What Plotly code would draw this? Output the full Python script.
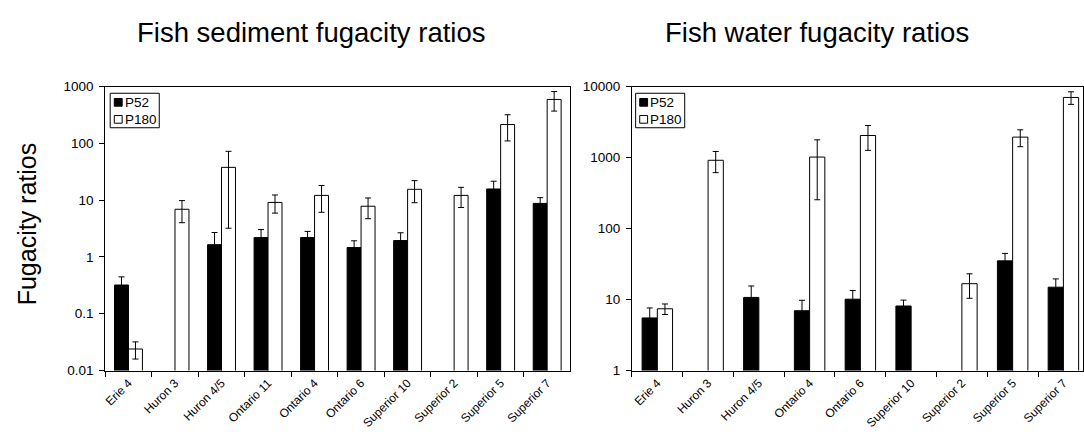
import plotly.graph_objects as go

# ---------------- data ----------------
cats_sed = ["Erie 4", "Huron 3", "Huron 4/5", "Ontario 11", "Ontario 4",
            "Ontario 6", "Superior 10", "Superior 2", "Superior 5", "Superior 7"]
sed_p52 = [0.32, None, 1.64, 2.19, 2.19, 1.46, 1.94, None, 15.7, 8.75]
sed_p52_err = [0.125, None, 1.05, 0.84, 0.62, 0.46, 0.72, None, 5.8, 2.3]
sed_p180 = [0.0239, 6.9, 37.7, 9.1, 12.1, 7.8, 15.5, 12.1, 214, 592]
sed_p180_err = [0.008, 2.9, 34.5, 3.2, 6.0, 3.1, 6.5, 4.7, 104, 223]

cats_wat = ["Erie 4", "Huron 3", "Huron 4/5", "Ontario 4", "Ontario 6",
            "Superior 10", "Superior 2", "Superior 5", "Superior 7"]
wat_p52 = [5.5, None, 10.7, 6.95, 10.1, 8.1, None, 35, 14.9]
wat_p52_err = [2.1, None, 4.8, 2.8, 3.3, 1.7, None, 9.6, 4.6]
wat_p180 = [7.4, 914, None, 1014, 2042, None, 16.7, 1937, 7010]
wat_p180_err = [1.25, 302, None, 760, 780, None, 6.3, 517, 1410]

sed_ticks = [0.01, 0.1, 1, 10, 100, 1000]
sed_ticktext = ["0.01", "0.1", "1", "10", "100", "1000"]
wat_ticks = [1, 10, 100, 1000, 10000]
wat_ticktext = ["1", "10", "100", "1000", "10000"]

series_names = ["P52", "P180"]
titles = ["Fish sediment fugacity ratios", "Fish water fugacity ratios"]
ytitle = "Fugacity ratios"

# ---------------- layout helpers ----------------
W, H = 1084, 441
FONT = "Liberation Sans, Arial, sans-serif"


def px(x):
    return x / W


def py(y):
    return 1 - y / H


def err(arr):
    return dict(type="data", array=arr, visible=True, color="black",
                thickness=1, width=3)


fig = go.Figure()
fig.add_trace(go.Bar(x=cats_sed, y=sed_p52, error_y=err(sed_p52_err),
                     marker=dict(color="black", line=dict(color="black", width=1)),
                     name=series_names[0], xaxis="x", yaxis="y", showlegend=False))
fig.add_trace(go.Bar(x=cats_sed, y=sed_p180, error_y=err(sed_p180_err),
                     marker=dict(color="white", line=dict(color="black", width=1)),
                     name=series_names[1], xaxis="x", yaxis="y", showlegend=False))
fig.add_trace(go.Bar(x=cats_wat, y=wat_p52, error_y=err(wat_p52_err),
                     marker=dict(color="black", line=dict(color="black", width=1)),
                     name=series_names[0], xaxis="x2", yaxis="y2", showlegend=False))
fig.add_trace(go.Bar(x=cats_wat, y=wat_p180, error_y=err(wat_p180_err),
                     marker=dict(color="white", line=dict(color="black", width=1)),
                     name=series_names[1], xaxis="x2", yaxis="y2", showlegend=False))

left_x0, left_x1 = 103.5, 570
right_x0 = 631.7
right_cat_w = 50.9
plot_top, plot_bot = 82.3, 376.3

xcommon = dict(type="category", tickson="boundaries", ticks="outside", ticklen=5,
               tickcolor="black", tickangle=-45, showline=True, linecolor="black",
               linewidth=1, mirror=True, showgrid=False, zeroline=False,
               tickfont=dict(family=FONT, size=12, color="black"))
ycommon = dict(type="log", ticks="outside", ticklen=5, tickcolor="black",
               showline=True, linecolor="black", linewidth=1, mirror=True,
               showgrid=False, zeroline=False, ticklabelstandoff=3,
               tickfont=dict(family=FONT, size=13.5, color="black"))

right_end = (W - right_x0) / right_cat_w - 0.5

fig.update_layout(
    width=W, height=H, margin=dict(l=0, r=0, t=0, b=0),
    paper_bgcolor="white", plot_bgcolor="white",
    barmode="group", bargap=0.4, bargroupgap=0,
    font=dict(family=FONT, color="black"),
    xaxis=dict(xcommon, domain=[px(left_x0), px(left_x1)], anchor="y",
               categoryorder="array", categoryarray=cats_sed, range=[-0.5, 9.5]),
    yaxis=dict(ycommon, domain=[py(plot_bot), py(plot_top)], anchor="x",
               range=[-2, 3], tickvals=sed_ticks, ticktext=sed_ticktext),
    xaxis2=dict(xcommon, domain=[px(right_x0), 1], anchor="y2",
                categoryorder="array", categoryarray=cats_wat,
                range=[-0.5, right_end]),
    yaxis2=dict(ycommon, domain=[py(plot_bot), py(plot_top)], anchor="x2",
                range=[0, 4], tickvals=wat_ticks, ticktext=wat_ticktext),
)

annotations = [
    dict(text=titles[0], x=px(309.5), y=py(26), xref="paper", yref="paper",
         xanchor="center", yanchor="middle", showarrow=False,
         font=dict(family=FONT, size=27.5, color="black")),
    dict(text=titles[1], x=px(817.5), y=py(26), xref="paper", yref="paper",
         xanchor="center", yanchor="middle", showarrow=False,
         font=dict(family=FONT, size=27.5, color="black")),
    dict(text=ytitle, x=px(25), y=py(224), xref="paper", yref="paper",
         xanchor="center", yanchor="middle", textangle=-90, showarrow=False,
         font=dict(family=FONT, size=25, color="black")),
]
shapes = []

# custom legends (one per panel)
for off in (0, 526.9):
    shapes.append(dict(type="rect", xref="paper", yref="paper",
                       x0=px(108.5 + off), x1=px(157.7 + off),
                       y0=py(125), y1=py(89.3),
                       line=dict(color="black", width=1), fillcolor="white"))
    shapes.append(dict(type="rect", xref="paper", yref="paper",
                       x0=px(112.6 + off), x1=px(120.5 + off),
                       y0=py(102.7), y1=py(94.7),
                       line=dict(color="black", width=1), fillcolor="black"))
    shapes.append(dict(type="rect", xref="paper", yref="paper",
                       x0=px(112.6 + off), x1=px(120.5 + off),
                       y0=py(120.3), y1=py(112.3),
                       line=dict(color="black", width=1), fillcolor="white"))
    for name, yc in zip(series_names, (98.7, 116.3)):
        annotations.append(dict(text=name, x=px(121 + off), y=py(yc),
                                xref="paper", yref="paper", xanchor="left",
                                yanchor="middle", showarrow=False,
                                font=dict(family=FONT, size=13.5, color="black")))

fig.update_layout(annotations=annotations, shapes=shapes)
fig.write_html(
    "out.html",
    config={"displayModeBar": False},
    post_script="document.body.style.margin='0';document.body.style.overflow='hidden';",
)
